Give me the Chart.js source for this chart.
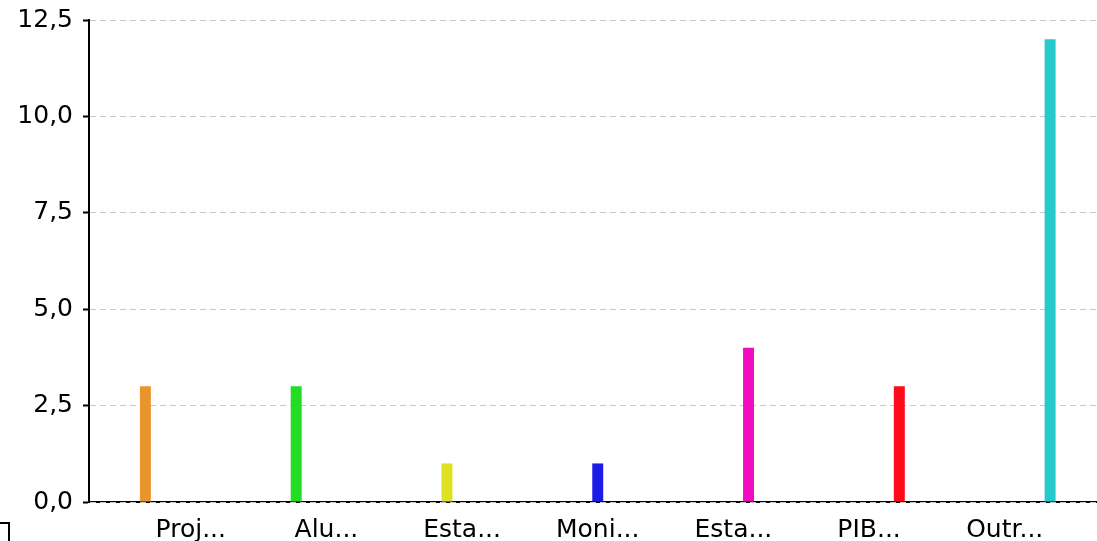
<!DOCTYPE html>
<html>
<head>
<meta charset="utf-8">
<script src="https://cdn.jsdelivr.net/npm/chart.js@4/dist/chart.umd.min.js"></script>
<style>
  html, body { margin: 0; padding: 0; background: #fff; }
  #wrap { width: 1097px; height: 541px; position: relative; }
</style>
</head>
<body>
<div id="wrap"><canvas id="barchart"></canvas></div>
<script>
// categories and values
var labels = ["Proj...", "Alu...", "Esta...", "Moni...", "Esta...", "PIB...", "Outr..."];
var values = [3, 3, 1, 1, 4, 3, 12];
var colors = ["#e8952e", "#22dd22", "#e0e024", "#1c1ce6", "#f20cbf", "#ff0a1a", "#26c9cc"];
var yTicks = [0, 2.5, 5, 7.5, 10, 12.5];

// one dataset per category so every bar gets its own slot in the group
var datasets = labels.map(function (name, i) {
  return {
    label: name,
    data: [{ x: i, y: values[i] }],
    backgroundColor: colors[i],
    borderWidth: 0,
    categoryPercentage: 0.78,
    barPercentage: 0.725
  };
});

var fontFamily = "'DejaVu Sans', sans-serif";

// little box in the lower left corner
var cornerBox = {
  id: 'cornerBox',
  afterDraw: function (chart) {
    var c = chart.ctx;
    c.save();
    c.strokeStyle = '#000';
    c.lineWidth = 2;
    c.strokeRect(-20, 523, 29, 40);
    c.restore();
  }
};

var ctx = document.getElementById("barchart");
var myChart = new Chart(ctx, {
  type: 'bar',
  data: { datasets: datasets },
  plugins: [cornerBox],
  options: {
    responsive: true,
    maintainAspectRatio: false,
    animation: false,
    layout: { padding: { top: 20, right: 0, left: 0, bottom: 0 } },
    plugins: {
      legend: { display: false },
      tooltip: { enabled: false }
    },
    scales: {
      x: {
        type: 'linear',
        offset: false,
        min: -0.75,
        max: 6.68,
        grid: { display: false, drawTicks: false },
        // z -1 keeps the dashed zero line of the y grid on top of it
        border: { display: true, color: '#000', width: 2, z: -1 },
        afterBuildTicks: function (scale) {
          scale.ticks = labels.map(function (l, i) { return { value: i }; });
        },
        afterFit: function (scale) { scale.height = 39; },
        ticks: {
          autoSkip: false,
          maxRotation: 0,
          padding: 13,
          color: '#000',
          font: { family: fontFamily, size: 25 },
          callback: function (v) { return labels[v]; }
        }
      },
      y: {
        min: 0,
        max: 12.5,
        afterBuildTicks: function (scale) {
          scale.ticks = yTicks.map(function (v) { return { value: v }; });
        },
        afterFit: function (scale) {
          scale.width = 89;
          scale.paddingTop = 0;
          scale.paddingBottom = 0;
        },
        grid: {
          color: '#c8c8c8',
          lineWidth: 1,
          tickColor: '#000',
          tickWidth: 2,
          tickLength: 6
        },
        border: { display: true, color: '#000', width: 2, dash: [6, 4] },
        ticks: {
          padding: 10,
          color: '#000',
          font: { family: fontFamily, size: 25 },
          callback: function (v) { return v.toFixed(1).replace('.', ','); }
        }
      }
    }
  }
});
</script>
</body>
</html>
